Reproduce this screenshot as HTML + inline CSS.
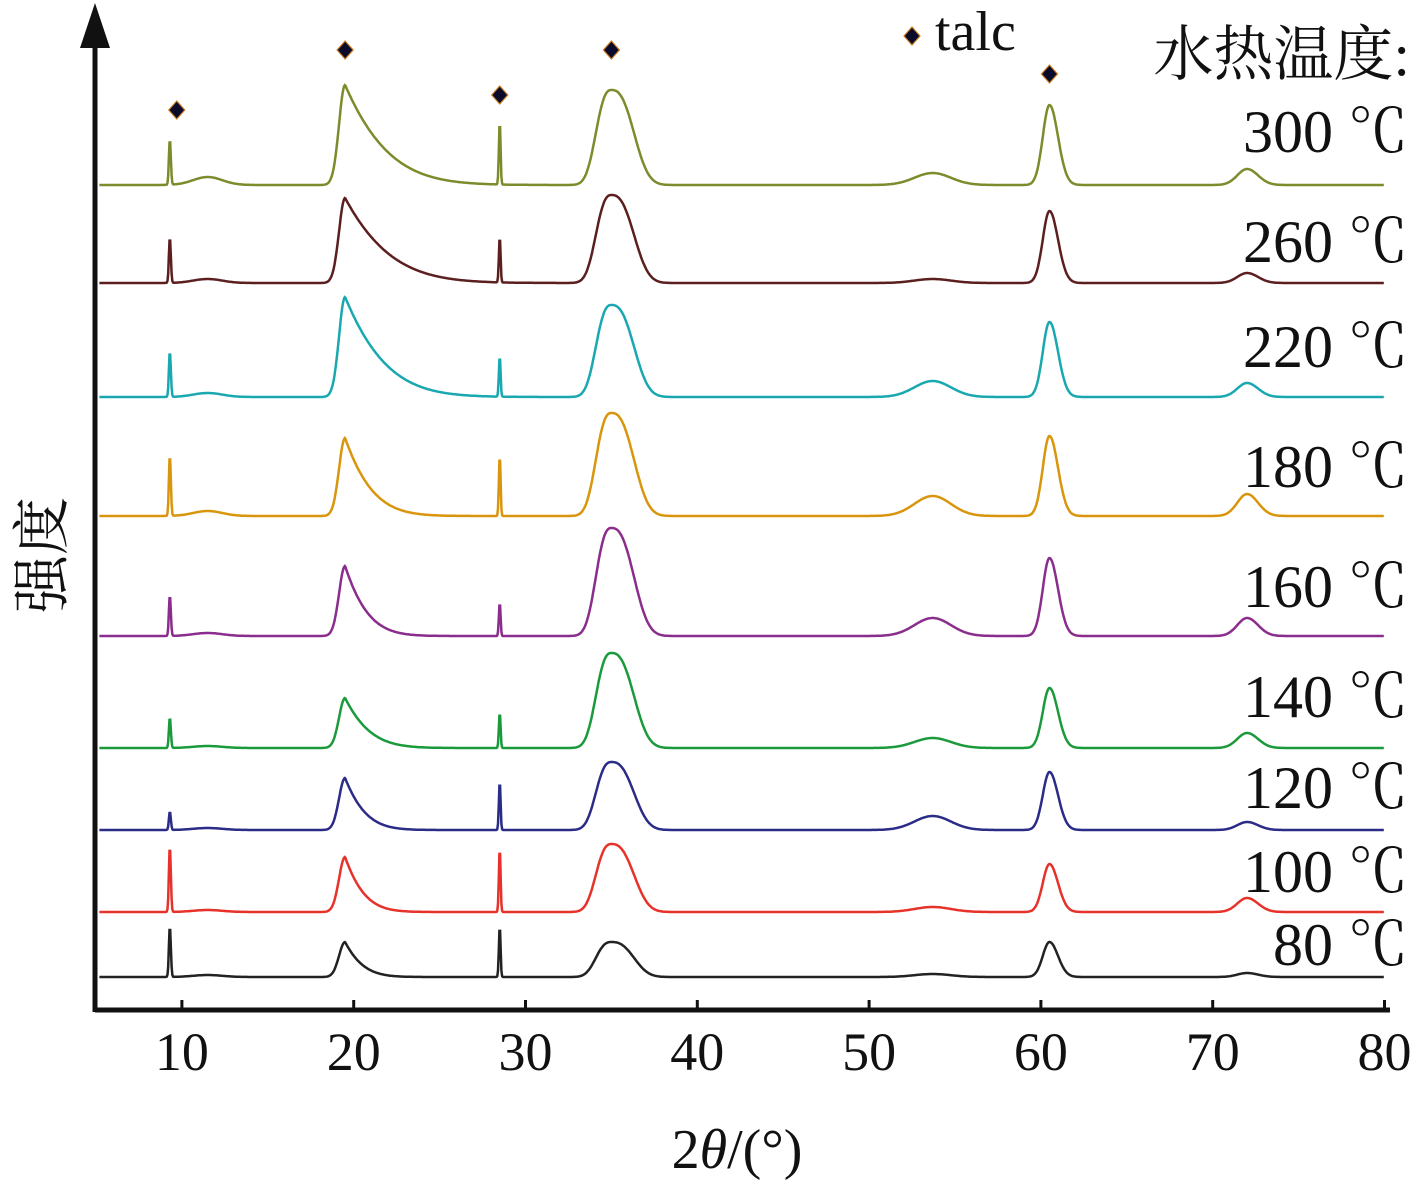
<!DOCTYPE html>
<html><head><meta charset="utf-8"><style>
html,body{margin:0;padding:0;background:#fff;}
svg text{font-family:"Liberation Serif","Noto Serif CJK SC",serif;fill:#111;}
</style></head><body>
<svg id="chart" width="1417" height="1181" viewBox="0 0 1417 1181" xmlns="http://www.w3.org/2000/svg">
<g id="axes">
<line x1="95" y1="1010" x2="1390" y2="1010" stroke="#111" stroke-width="5"/>
<line x1="95" y1="1012" x2="95" y2="40" stroke="#111" stroke-width="5"/>
<polygon points="95,3 80,48 110,48" fill="#111"/>
</g>
<g id="ticks"></g>
<g id="series"></g>
<g id="markers"></g>
<text x="737" y="1168" font-size="56" text-anchor="middle">2<tspan font-style="italic">θ</tspan>/(°)</text>
<text transform="translate(62,555) rotate(-90)" font-size="58" text-anchor="middle">强度</text>
<text x="935" y="50" font-size="56">talc</text>
<text x="1410" y="75" font-size="60" text-anchor="end">水热温度:</text>
</svg>
<script>
const categories=["300 ℃","260 ℃","220 ℃","180 ℃","160 ℃","140 ℃","120 ℃","100 ℃","80 ℃"];
const peakCenters=[9.3,11.5,19.5,28.5,35,53.7,60.5,72];
const h300=[45,8,100,62,95,12,80,16];
const h260=[45,4,85,45,88,4,72,10];
const h220=[45,4,100,40,92,16,75,14];
const h180=[60,5,78,60,103,20,80,22];
const h160=[40,3,70,33,108,18,78,18];
const h140=[30,2,50,35,95,10,60,15];
const h120=[18,2,52,48,68,14,58,8];
const h100=[65,2,55,63,68,5,48,14];
const h80=[50,2,35,50,35,3,35,4];
const heights=[h300,h260,h220,h180,h160,h140,h120,h100,h80];
const tailWidths=[3.8,4.0,3.6,2.4,2.0,2.2,1.8,1.7,1.6];
const xTicks=[10,20,30,40,50,60,70,80];
const markerX=[9.7,19.5,28.5,35,60.5];

const colors=["#7b8c2c","#5c1f1f","#19a8b0","#d9950c","#8a2d8c","#1b9a3c","#2b2b88","#e6322a","#222222"];
const baselines=[185,283,397,516,636,748,830,912,977];
const labelY=[152,262,367,487,607,717,808,892,965];
const markerY=[110,50,95,50,74];
const NS="http://www.w3.org/2000/svg";
const xs=v=>96+(v-5)*17.18;

const tg=document.getElementById('ticks');
xTicks.forEach(t=>{
  const l=document.createElementNS(NS,'line');
  
  
  l.setAttribute('x1',xs(t));l.setAttribute('x2',xs(t));l.setAttribute('y1',1010);l.setAttribute('y2',1000);
  l.setAttribute('stroke','#111');l.setAttribute('stroke-width','3');tg.appendChild(l);
  const tx=document.createElementNS(NS,'text');
  
  
  tx.setAttribute('x',xs(t));tx.setAttribute('y',1070);tx.setAttribute('font-size','54');tx.setAttribute('text-anchor','middle');
  tx.textContent=t;tg.appendChild(tx);
});

function shape(x,i,tail){
  const widths=[[0.08,0.08],[1.2,1.2],[0.5,tail],[0.07,0.07],[1.1,1.6],[1.5,1.5],[0.55,0.7],[0.8,0.9]];
  const c=peakCenters[i];const w=x<c?widths[i][0]:widths[i][1];
  if(i===2&&x>=c){const d=(x-c)/tail;return Math.exp(-d*1.5)*Math.exp(-d*d*0.3);}
  const d=(x-c)/w;
  if(i===4){return Math.exp(-Math.pow(Math.abs(d),2.6));}
  return Math.exp(-d*d);
}
const sg=document.getElementById('series');
categories.forEach((cat,s)=>{
  let pts=[];
  for(let x=5.2;x<=80;x+=0.04){
    let y=0;
    heights[s].forEach((h,i)=>{y+=h*shape(x,i,tailWidths[s]);});
    pts.push(xs(x).toFixed(1)+','+(baselines[s]-y).toFixed(1));
  }
  const p=document.createElementNS(NS,'polyline');
  
  
  p.setAttribute('points',pts.join(' '));p.setAttribute('fill','none');
  p.setAttribute('stroke',colors[s]);p.setAttribute('stroke-width','2.5');
  sg.appendChild(p);
  const t=document.createElementNS(NS,'text');
  
  
  t.setAttribute('x',1408);t.setAttribute('y',labelY[s]);t.setAttribute('font-size','60');t.setAttribute('text-anchor','end');
  t.textContent=cat;sg.appendChild(t);
});
const mg=document.getElementById('markers');
function diamond(cx,cy,name){
  const d=document.createElementNS(NS,'polygon');
  
  
  d.setAttribute('points',`${cx},${cy-9} ${cx+8},${cy} ${cx},${cy+9} ${cx-8},${cy}`);
  d.setAttribute('fill','#0a0a2a');d.setAttribute('stroke','#c87a20');d.setAttribute('stroke-width','1.2');
  mg.appendChild(d);
}
markerX.forEach((v,i)=>diamond(xs(v),markerY[i],'talc-marker'));
diamond(912,36,'legend-talc-marker');
</script>
</body></html>
